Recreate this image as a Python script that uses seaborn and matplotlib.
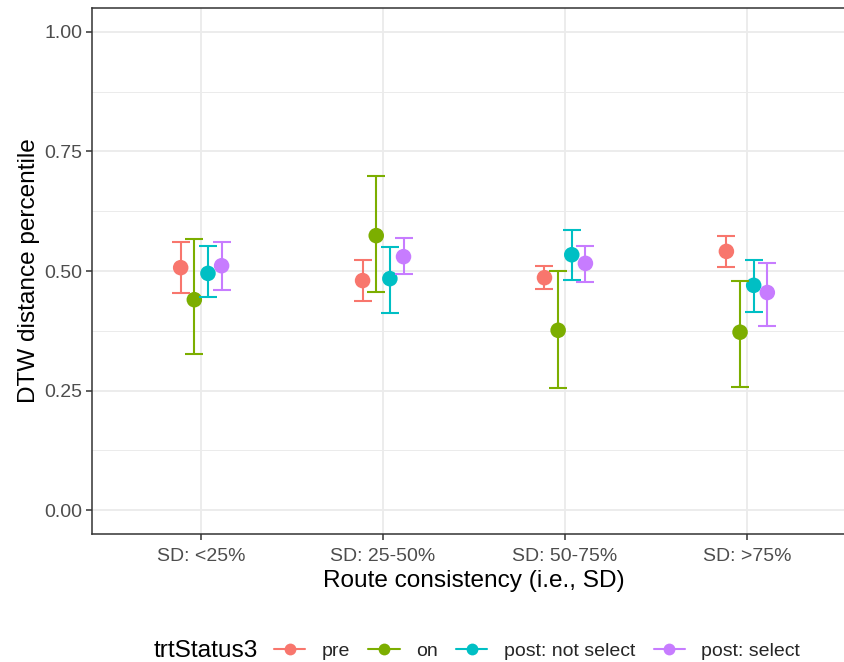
import numpy as np
import pandas as pd
import seaborn as sns
import matplotlib
matplotlib.use("Agg")
import matplotlib.pyplot as plt
from matplotlib.lines import Line2D
from matplotlib.ticker import MultipleLocator, FormatStrFormatter

# categories on the x axis and groups in the legend
categories = ["SD: <25%", "SD: 25-50%", "SD: 50-75%", "SD: >75%"]
status = ["pre", "on", "post: not select", "post: select"]
palette = ["#F8766D", "#7CAE00", "#00BFC4", "#C77CFF"]

# point estimates
mean_pre = [0.507, 0.480, 0.486, 0.541]
mean_on = [0.440, 0.574, 0.376, 0.372]
mean_post_ns = [0.495, 0.484, 0.534, 0.470]
mean_post_s = [0.511, 0.530, 0.516, 0.455]

# lower ends of error bars
low_pre = [0.455, 0.438, 0.463, 0.509]
low_on = [0.326, 0.457, 0.255, 0.257]
low_post_ns = [0.445, 0.413, 0.482, 0.415]
low_post_s = [0.461, 0.493, 0.476, 0.384]

# upper ends of error bars
high_pre = [0.560, 0.524, 0.511, 0.574]
high_on = [0.566, 0.699, 0.499, 0.480]
high_post_ns = [0.553, 0.551, 0.585, 0.524]
high_post_s = [0.560, 0.570, 0.553, 0.516]

means = [mean_pre, mean_on, mean_post_ns, mean_post_s]
lows = [low_pre, low_on, low_post_ns, low_post_s]
highs = [high_pre, high_on, high_post_ns, high_post_s]

# long dataframe with dodged x positions
dodge = 0.3
rows = []
for j, s in enumerate(status):
    for i, c in enumerate(categories):
        rows.append({
            "x": i + (j - 1.5) * dodge / 4,
            "y": means[j][i],
            "lo": lows[j][i],
            "hi": highs[j][i],
            "trtStatus3": s,
        })
df = pd.DataFrame(rows)

sns.set_style("white")
plt.rcParams["font.family"] = ["Liberation Sans", "DejaVu Sans"]

fig = plt.figure(figsize=(8.44, 6.62), dpi=100)
ax = fig.add_axes([92 / 844, (662 - 534) / 662, (856 - 92) / 844, (534 - 8) / 662])

sns.scatterplot(data=df, x="x", y="y", hue="trtStatus3", hue_order=status,
                palette=palette, s=125, edgecolor="none", legend=False,
                ax=ax, zorder=3)

for j, s in enumerate(status):
    d = df[df["trtStatus3"] == s]
    ax.errorbar(d["x"], d["y"], yerr=[d["y"] - d["lo"], d["hi"] - d["y"]],
                fmt="none", ecolor=palette[j], elinewidth=1.5,
                capsize=6.8, capthick=1.5, zorder=4)

ax.set_xlim(-0.6, 3.6)
ax.set_ylim(-0.05, 1.05)
ax.set_xticks(range(len(categories)))
ax.set_xticklabels(categories)
ax.yaxis.set_major_locator(MultipleLocator(0.25))
ax.yaxis.set_minor_locator(MultipleLocator(0.125))
ax.yaxis.set_major_formatter(FormatStrFormatter("%.2f"))

ax.grid(which="major", color="#EBEBEB", linewidth=1.3, zorder=0)
ax.grid(which="minor", axis="y", color="#EBEBEB", linewidth=0.7, zorder=0)
ax.set_axisbelow(True)

for sp in ax.spines.values():
    sp.set_color("#333333")
    sp.set_linewidth(1.1)

ax.tick_params(which="major", length=4, width=1.1, color="#333333",
               labelsize=14, labelcolor="#4D4D4D", pad=3,
               left=True, bottom=True, direction="out")
ax.tick_params(axis="x", which="major", pad=6)
ax.tick_params(which="minor", length=0)

ax.set_xlabel("Route consistency (i.e., SD)", fontsize=17.6, color="black", labelpad=4)
ax.set_ylabel("DTW distance percentile", fontsize=17.6, color="black", labelpad=3)

# legend at the bottom with title to the left
handles = [Line2D([0], [0], color=palette[j], lw=1.5, marker="o",
                  markersize=8.5, markeredgewidth=0) for j in range(len(status))]
fig.legend(handles, status, loc="center left", bbox_to_anchor=(274 / 844, 1 - 651 / 662),
           ncol=4, frameon=False, fontsize=14, handlelength=1.6,
           handletextpad=0.85, columnspacing=0.95, borderpad=0, borderaxespad=0)
fig.text(258 / 844, 1 - 651 / 662, "trtStatus3", ha="right", va="center",
         fontsize=17.6, color="black")

fig.savefig("out.png", dpi=100)
